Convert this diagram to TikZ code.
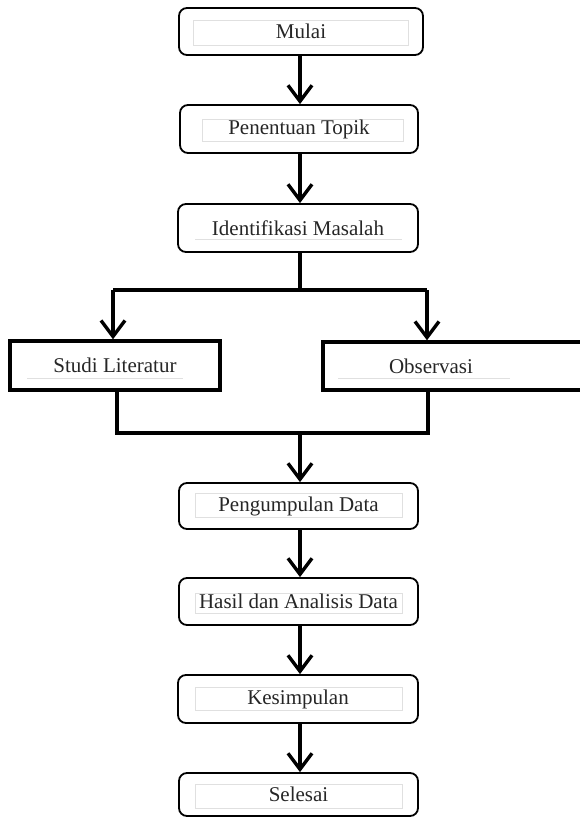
\documentclass[tikz,border=0pt]{standalone}
\usepackage{fontspec}
\setmainfont{Liberation Serif}
\usetikzlibrary{arrows.meta}
\tikzset{
  roundbox/.style={draw=black, line width=1.8pt, rounded corners=8pt, inner sep=0pt,
    font=\fontsize{21}{25}\selectfont, text=black!85},
  thickbox/.style={draw=black, line width=3.4pt, inner sep=0pt,
    font=\fontsize{21}{25}\selectfont, text=black!85},
  conn/.style={line width=3.2pt, draw=black},
  arr/.style={conn, -{Straight Barb[length=16pt,width=24pt,line width=3.4pt]}},
  ghost/.style={draw=black!12, line width=0.7pt}
}
\begin{document}
\begin{tikzpicture}[x=1pt,y=-1pt]
\useasboundingbox (0,0) rectangle (580,818);
% ghost inner frames
\draw[ghost] (193,20) rectangle (408,45);
\draw[ghost] (202,119) rectangle (403,141);
\draw[ghost] (195,239) -- (402,239);
\draw[ghost] (27,378) -- (183,378);
\draw[ghost] (338,378) -- (510,378);
\draw[ghost] (195,493) rectangle (402,517);
\draw[ghost] (195,593) rectangle (402,613);
\draw[ghost] (195,687) rectangle (402,710);
\draw[ghost] (195,784) rectangle (402,808);
% boxes
\node[roundbox, minimum width=244pt, minimum height=47pt] (mulai) at (301,31.5) {Mulai};
\node[roundbox, minimum width=238pt, minimum height=48pt] (topik) at (299,129) {Penentuan Topik};
\node[roundbox, minimum width=240pt, minimum height=48pt] (idf) at (298,228) {Identifikasi Masalah};
\node[thickbox, minimum width=210pt, minimum height=49pt] (studi) at (115,365.5) {Studi Literatur};
\node[thickbox, minimum width=262pt, minimum height=48pt, text width=262pt, align=left] (obs) at (454,366) {\hspace*{66pt}Observasi};
\node[roundbox, minimum width=239pt, minimum height=46pt] (peng) at (298.5,506) {Pengumpulan Data};
\node[roundbox, minimum width=239pt, minimum height=47pt] (hasil) at (298.5,601.5) {Hasil dan Analisis Data};
\node[roundbox, minimum width=240pt, minimum height=48pt] (kes) at (298,699) {Kesimpulan};
\node[roundbox, minimum width=239pt, minimum height=43pt] (sel) at (298.5,794.5) {Selesai};
% connectors
\coordinate (split) at (300,290);
\coordinate (sl) at (113,290);
\coordinate (sr) at (427,290);
\coordinate (ml) at (117,433);
\coordinate (mr) at (428,433);
\coordinate (mm) at (300,433);
\draw[arr] (mulai.south -| split) -- (topik.north -| split);
\draw[arr] (topik.south -| split) -- (idf.north -| split);
\draw[conn] (idf.south -| split) -- (split);
\draw[conn] (sl) -- (sr);
\draw[arr] (sl) -- (studi.north -| sl);
\draw[arr] (sr) -- (obs.north -| sr);
\draw[conn] (studi.south -| ml) -- (ml) -- (mr) -- (obs.south -| mr);
\draw[arr] (mm) -- (peng.north -| mm);
\draw[arr] (peng.south -| mm) -- (hasil.north -| mm);
\draw[arr] (hasil.south -| mm) -- (kes.north -| mm);
\draw[arr] (kes.south -| mm) -- (sel.north -| mm);
\end{tikzpicture}
\end{document}
